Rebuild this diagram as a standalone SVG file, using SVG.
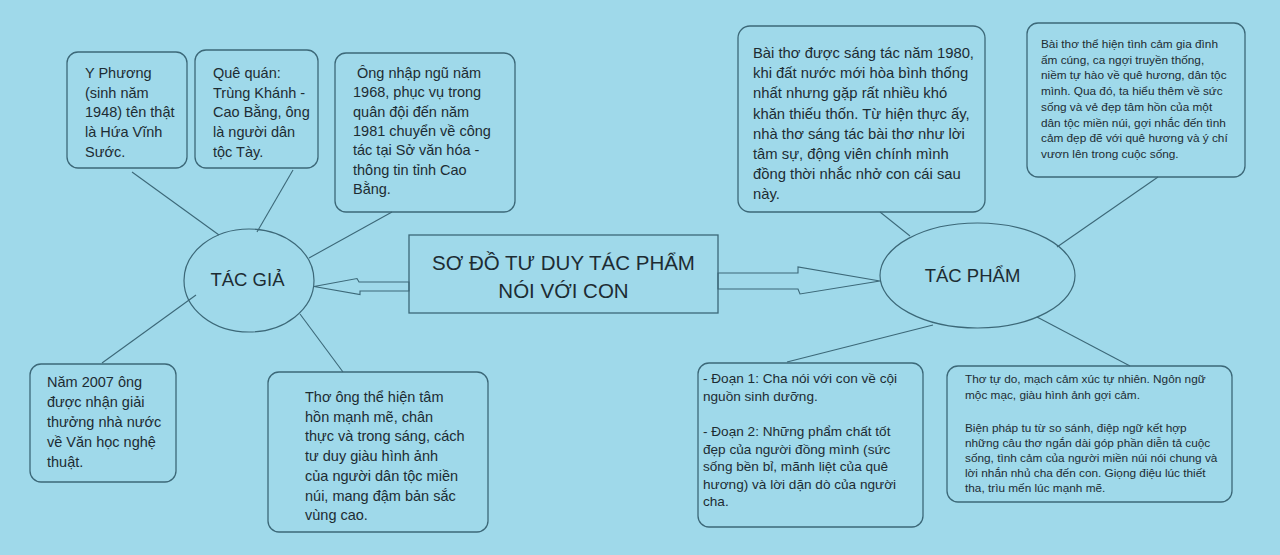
<svg xmlns="http://www.w3.org/2000/svg" width="1280" height="555" viewBox="0 0 1280 555">
<style>
.bg{fill:#9fd9ea}
.box{fill:none;stroke:#3c6878;stroke-width:1.3}
.ell{fill:none;stroke:#3c6878;stroke-width:1.2}
.ln{fill:none;stroke:#3c6878;stroke-width:1.1}
.arr{fill:#9fd9ea;stroke:#3c6878;stroke-width:1.1}
text{font-family:"Liberation Sans",Arial,sans-serif;fill:#1d2c33}
.t{font-size:14.5px}
.t4{font-size:14.8px}
.s{font-size:11.8px}
.m{font-size:13.6px}
.h{font-size:18.5px;text-anchor:middle}
.ti{font-size:20.5px;text-anchor:middle}
</style>
<rect class="bg" x="0" y="0" width="1280" height="555"/>
<g id="connectors">
<line class="ln" x1="132" y1="172" x2="219" y2="235"/>
<line class="ln" x1="293" y1="170" x2="257" y2="232"/>
<line class="ln" x1="392" y1="212" x2="309" y2="258"/>
<line class="ln" x1="102" y1="363" x2="196" y2="295"/>
<line class="ln" x1="300" y1="314" x2="343" y2="372"/>
<line class="ln" x1="880" y1="212" x2="910" y2="236"/>
<line class="ln" x1="1158" y1="177" x2="1057" y2="247"/>
<line class="ln" x1="933" y1="325" x2="787" y2="362"/>
<line class="ln" x1="1037" y1="317" x2="1130" y2="366"/>
<polygon id="arrow-left" class="arr" points="409,282 359,282 357,278.5 314,286.5 360,294.5 360,291 409,291"/>
<polygon id="arrow-right" class="arr" points="718,273 798,273 798,267 880,281 800,294 798,289 718,289"/>
</g>
<g id="title">
<rect class="box" x="409" y="235" width="309" height="78"/>
<text class="ti" x="563.5" y="270">SƠ ĐỒ TƯ DUY TÁC PHẨM</text>
<text class="ti" x="563.5" y="298">NÓI VỚI CON</text>
</g>
<g id="tac-gia">
<ellipse class="ell" cx="249" cy="280.5" rx="65" ry="51.5"/>
<text class="h" x="247.5" y="286">TÁC GIẢ</text>
</g>
<g id="tac-pham">
<ellipse class="ell" cx="977.5" cy="275.5" rx="97.5" ry="52.5"/>
<text class="h" x="972.5" y="282">TÁC PHẨM</text>
</g>
<g id="box-y-phuong">
<rect class="box" x="67" y="52" width="120" height="116" rx="11"/>
<text class="t"><tspan x="85" y="78">Y Phương</tspan><tspan x="85" y="97.7">(sinh năm</tspan><tspan x="85" y="117.4">1948) tên thật</tspan><tspan x="85" y="137.1">là Hứa Vĩnh</tspan><tspan x="85" y="156.8">Sước.</tspan></text>
</g>
<g id="box-que-quan">
<rect class="box" x="195" y="50" width="123" height="118" rx="11"/>
<text class="t"><tspan x="213" y="78">Quê quán:</tspan><tspan x="213" y="97.7">Trùng Khánh -</tspan><tspan x="213" y="117.4">Cao Bằng, ông</tspan><tspan x="213" y="137.1">là người dân</tspan><tspan x="213" y="156.8">tộc Tày.</tspan></text>
</g>
<g id="box-nhap-ngu">
<rect class="box" x="335" y="53" width="180" height="159" rx="11"/>
<text class="t"><tspan x="357" y="78">Ông nhập ngũ năm</tspan><tspan x="353" y="97.3">1968, phục vụ trong</tspan><tspan x="353" y="116.6">quân đội đến năm</tspan><tspan x="353" y="135.9">1981 chuyển về công</tspan><tspan x="353" y="155.2">tác tại Sở văn hóa -</tspan><tspan x="353" y="174.5">thông tin tỉnh Cao</tspan><tspan x="353" y="193.8">Bằng.</tspan></text>
</g>
<g id="box-nam-2007">
<rect class="box" x="30" y="364" width="146" height="118" rx="11"/>
<text class="t"><tspan x="47" y="387">Năm 2007 ông</tspan><tspan x="47" y="407">được nhận giải</tspan><tspan x="47" y="427">thưởng nhà nước</tspan><tspan x="47" y="447">về Văn học nghệ</tspan><tspan x="47" y="467">thuật.</tspan></text>
</g>
<g id="box-tho-ong">
<rect class="box" x="268" y="372" width="220" height="160" rx="11"/>
<text class="t"><tspan x="305" y="402">Thơ ông thể hiện tâm</tspan><tspan x="305" y="421.7">hồn mạnh mẽ, chân</tspan><tspan x="305" y="441.4">thực và trong sáng, cách</tspan><tspan x="305" y="461.1">tư duy giàu hình ảnh</tspan><tspan x="305" y="480.8">của người dân tộc miền</tspan><tspan x="305" y="500.5">núi, mang đậm bản sắc</tspan><tspan x="305" y="520.2">vùng cao.</tspan></text>
</g>
<g id="box-sang-tac">
<rect class="box" x="738" y="26" width="247" height="186" rx="12"/>
<text class="t4"><tspan x="753" y="58">Bài thơ được sáng tác năm 1980,</tspan><tspan x="753" y="78.2">khi đất nước mới hòa bình thống</tspan><tspan x="753" y="98.4">nhất nhưng gặp rất nhiều khó</tspan><tspan x="753" y="118.6">khăn thiếu thốn. Từ hiện thực ấy,</tspan><tspan x="753" y="138.8">nhà thơ sáng tác bài thơ như lời</tspan><tspan x="753" y="159">tâm sự, động viên chính mình</tspan><tspan x="753" y="179.2">đồng thời nhắc nhở con cái sau</tspan><tspan x="753" y="199.4">này.</tspan></text>
</g>
<g id="box-noi-dung">
<rect class="box" x="1027" y="23" width="218" height="154" rx="11"/>
<text class="s"><tspan x="1041" y="48">Bài thơ thể hiện tình cảm gia đình</tspan><tspan x="1041" y="63.7">ấm cúng, ca ngợi truyền thống,</tspan><tspan x="1041" y="79.4">niềm tự hào về quê hương, dân tộc</tspan><tspan x="1041" y="95.1">mình. Qua đó, ta hiểu thêm về sức</tspan><tspan x="1041" y="110.8">sống và vẻ đẹp tâm hồn của một</tspan><tspan x="1041" y="126.5">dân tộc miền núi, gợi nhắc đến tình</tspan><tspan x="1041" y="142.2">cảm đẹp đẽ với quê hương và ý chí</tspan><tspan x="1041" y="157.9">vươn lên trong cuộc sống.</tspan></text>
</g>
<g id="box-doan">
<rect class="box" x="698" y="363" width="225" height="164" rx="11"/>
<text class="m"><tspan x="703" y="383">- Đoạn 1: Cha nói với con về cội</tspan><tspan x="703" y="400.5">nguồn sinh dưỡng.</tspan><tspan x="703" y="436">- Đoạn 2: Những phẩm chất tốt</tspan><tspan x="703" y="453.5">đẹp của người đồng mình (sức</tspan><tspan x="703" y="471">sống bền bỉ, mãnh liệt của quê</tspan><tspan x="703" y="488.5">hương) và lời dặn dò của người</tspan><tspan x="703" y="506">cha.</tspan></text>
</g>
<g id="box-nghe-thuat">
<rect class="box" x="947" y="366" width="285" height="136" rx="11"/>
<text class="s"><tspan x="965" y="383">Thơ tự do, mạch cảm xúc tự nhiên. Ngôn ngữ</tspan><tspan x="965" y="399">mộc mạc, giàu hình ảnh gợi cảm.</tspan><tspan x="965" y="432">Biện pháp tu từ so sánh, điệp ngữ kết hợp</tspan><tspan x="965" y="447">những câu thơ ngắn dài góp phần diễn tả cuộc</tspan><tspan x="965" y="462">sống, tình cảm của người miền núi nói chung và</tspan><tspan x="965" y="477">lời nhắn nhủ cha đến con. Giọng điệu lúc thiết</tspan><tspan x="965" y="492">tha, trìu mến lúc mạnh mẽ.</tspan></text>
</g>
</svg>
